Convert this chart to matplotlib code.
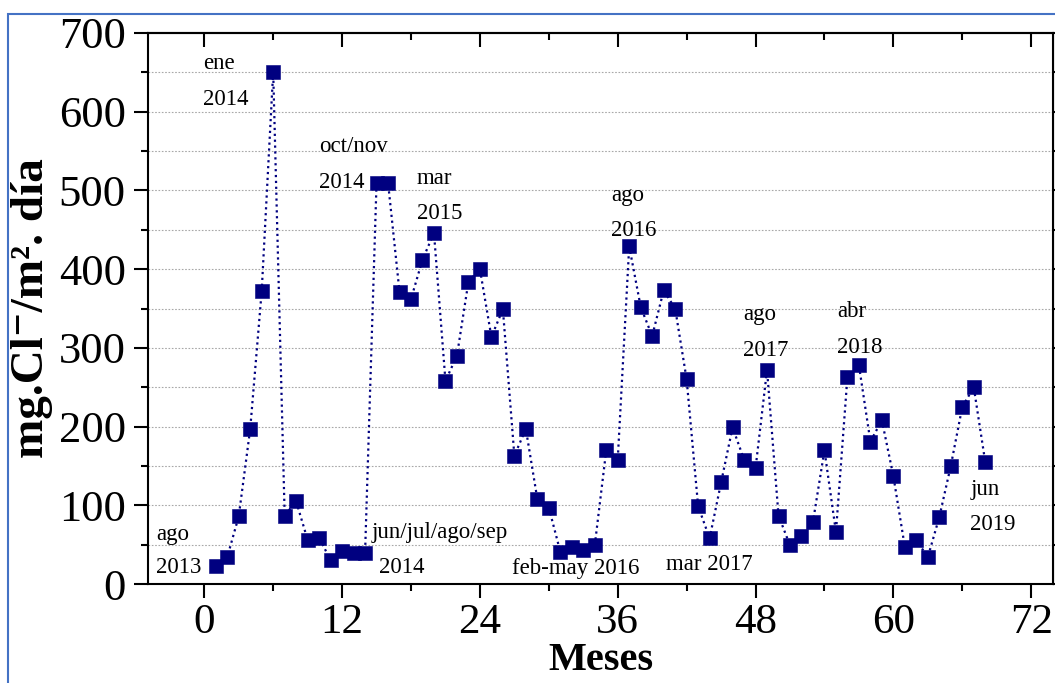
import matplotlib
matplotlib.use("Agg")
import matplotlib.pyplot as plt
from matplotlib.ticker import MultipleLocator
from matplotlib.patches import Rectangle

plt.rcParams['font.family'] = ['Liberation Serif', 'DejaVu Serif']

# Data: month index and chloride deposition
months = list(range(1, 69))
values = [23, 34, 86, 197, 372, 651, 87, 105, 56, 59,
          30, 42, 40, 39, 510, 510, 371, 362, 412, 446,
          258, 290, 384, 400, 314, 349, 163, 197, 108, 97,
          41, 47, 43, 49, 170, 158, 429, 352, 315, 373,
          350, 260, 99, 58, 129, 199, 158, 147, 272, 87,
          49, 61, 79, 170, 66, 263, 278, 181, 208, 137,
          47, 56, 34, 85, 150, 225, 250, 155]

x_ticks = [0, 12, 24, 36, 48, 60, 72]
y_ticks = [0, 100, 200, 300, 400, 500, 600, 700]

# annotations: (text, x, y)
annotations = [
    ("ago", -4.2, 63), ("2013", -4.2, 21),
    ("ene", -0.1, 661), ("2014", -0.1, 616),
    ("oct/nov", 10.0, 556), ("2014", 10.0, 510),
    ("mar", 18.5, 515), ("2015", 18.5, 471),
    ("jun/jul/ago/sep", 14.6, 66), ("2014", 15.2, 21),
    ("feb-may 2016", 26.8, 20),
    ("mar 2017", 40.2, 25),
    ("ago", 35.4, 494), ("2016", 35.4, 449),
    ("ago", 46.9, 342), ("2017", 46.9, 297),
    ("abr", 55.1, 346), ("2018", 55.1, 301),
    ("jun", 66.7, 120), ("2019", 66.7, 76),
]

fig = plt.figure(figsize=(10.55, 6.83), dpi=100)
ax = fig.add_axes([148/1055, 1-584/683, (1053-148)/1055, (584-33)/683])

# blue frame around the figure (partially visible)
fig.patches.append(Rectangle((8/1055, -0.05), 1.2, (683-14)/683 + 0.05,
                             transform=fig.transFigure, fill=False,
                             edgecolor='#4472C4', linewidth=1.5, clip_on=False))

navy = '#000080'
ax.plot(months, values, linestyle=':', color=navy, linewidth=1.6,
        marker='s', markersize=9.4, markerfacecolor=navy,
        markeredgecolor=navy, markeredgewidth=0.4, zorder=3)

ax.set_xlim(-4.9, 73.9)
ax.set_ylim(0, 700)
ax.set_xticks(x_ticks)
ax.set_yticks(y_ticks)
ax.xaxis.set_minor_locator(MultipleLocator(6))
ax.yaxis.set_minor_locator(MultipleLocator(50))

for y in range(50, 700, 50):
    ax.axhline(y, color='#a8a8a8', linestyle=(0, (1.5, 1.5)), linewidth=0.8, zorder=1)

for s in ax.spines.values():
    s.set_linewidth(1.5)

ax.tick_params(axis='both', which='major', labelsize=32, width=1.5, length=10)
ax.tick_params(axis='x', which='major', labelsize=31)
ax.tick_params(axis='both', which='minor', width=1.5, length=5)
ax.tick_params(axis='x', which='both', direction='out', top=False, pad=4)
ax.tick_params(axis='y', which='both', direction='out', right=False, pad=6)

# top ticks inward
secx = ax.secondary_xaxis('top')
secx.set_xticks(x_ticks)
secx.xaxis.set_minor_locator(MultipleLocator(6))
secx.tick_params(axis='x', which='major', direction='in', length=10, width=1.5, labeltop=False)
secx.tick_params(axis='x', which='minor', direction='in', length=5, width=1.5)
secx.spines['top'].set_linewidth(1.5)
secy = ax.secondary_yaxis('right')
secy.set_yticks(y_ticks)
secy.yaxis.set_minor_locator(MultipleLocator(50))
secy.tick_params(axis='y', which='major', direction='out', length=10, width=1.5, labelright=False)
secy.tick_params(axis='y', which='minor', direction='out', length=5, width=1.5)

ax.set_xlabel('Meses', fontsize=29, fontweight='bold', labelpad=0)
ax.set_ylabel('mg.Cl⁻/m². día', fontsize=34, fontweight='bold', labelpad=4)

for txt, xx, yy in annotations:
    ax.text(xx, yy, txt, fontsize=16.5, ha='left', va='center', zorder=4)

fig.savefig('out.png', dpi=100)
